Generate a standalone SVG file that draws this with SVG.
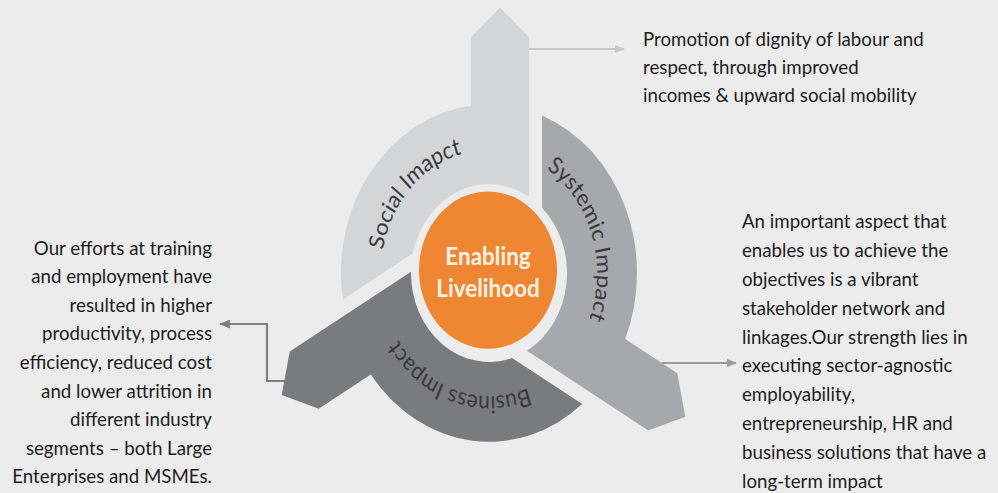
<svg xmlns="http://www.w3.org/2000/svg" xmlns:xlink="http://www.w3.org/1999/xlink" width="998" height="493" viewBox="0 0 998 493">
  <defs>
    <style>
      .bg { fill: #ececec; }
      .seg-social { fill: #d4d5d7; }
      .seg-systemic { fill: #a6a8ab; }
      .seg-business { fill: #7a7b7e; }
      .hub { fill: #ef8632; }
      .hub-text { font-family: Lato, "Open Sans", sans-serif; font-weight: 700; font-size: 22.5px; fill: #fdf1e6; text-anchor: middle; }
      .ring-label { font-family: Lato, "Open Sans", sans-serif; font-size: 21px; fill: #3a3a3c; }
      .desc { font-family: Lato, "Open Sans", sans-serif; font-size: 18.7px; fill: #1c1c1c; }
      .desc-right { text-anchor: end; }
      .conn { fill: none; stroke-width: 2.2; }
    </style>
    <!-- one ring segment with its outward arm; rotated copies form the cycle -->
    <path id="segment" d="M 40,-66.96 L 40,-207 L 11,-233 L -18,-207 L -18,-146.9 A 148 148 0 0 0 -146.17,23.2 L -76.06,-17.3 A 78 78 0 0 1 40,-66.96 Z"/>
    <!-- label baselines, all running clockwise -->
    <path id="arc-social" d="M -103.3,31.6 A 108 108 0 0 1 24.3,-105.2"/>
    <path id="arc-systemic" d="M 22.5,-105.6 A 108 108 0 0 1 80.3,72.3"/>
    <path id="arc-business" d="M 72.3,80.3 A 108 108 0 0 1 -105.6,22.5"/>
    <marker id="arrow-light" viewBox="0 0 10 8" refX="9" refY="4" markerWidth="10" markerHeight="8" markerUnits="userSpaceOnUse" orient="auto">
      <path d="M0,0 L10,4 L0,8 Z" fill="#c8c8c8"/>
    </marker>
    <marker id="arrow-mid" viewBox="0 0 10 8" refX="9" refY="4" markerWidth="10" markerHeight="8" markerUnits="userSpaceOnUse" orient="auto">
      <path d="M0,0 L10,4 L0,8 Z" fill="#9a9a9c"/>
    </marker>
    <marker id="arrow-dark" viewBox="0 0 10 8" refX="9" refY="4" markerWidth="11" markerHeight="9" markerUnits="userSpaceOnUse" orient="auto">
      <path d="M0,0 L10,4 L0,8 Z" fill="#7f7f81"/>
    </marker>
  </defs>

  <rect class="bg" x="0" y="0" width="998" height="493"/>

  <!-- connectors from each arm to its description -->
  <g id="connectors">
    <path class="conn" stroke="#c8c8c8" d="M 529,49 L 624,49" marker-end="url(#arrow-light)"/>
    <path class="conn" stroke="#9a9a9c" d="M 662,363 L 736,363" marker-end="url(#arrow-mid)"/>
    <path class="conn" stroke="#7f7f81" stroke-width="2.6" d="M 286,381 L 267,381 L 267,324 L 220,324" marker-end="url(#arrow-dark)"/>
  </g>

  <!-- the cycle, drawn round (0,0) and stretched vertically -->
  <g transform="translate(489,273) scale(1,1.14)">
    <g id="social-impact">
      <use xlink:href="#segment" class="seg-social"/>
      <text class="ring-label"><textPath xlink:href="#arc-social" startOffset="50%" text-anchor="middle">Social Imapct</textPath></text>
    </g>
    <g id="systemic-impact">
      <use xlink:href="#segment" class="seg-systemic" transform="rotate(120)"/>
      <text class="ring-label"><textPath xlink:href="#arc-systemic" startOffset="50%" text-anchor="middle">Systemic Impact</textPath></text>
    </g>
    <g id="business-impact">
      <use xlink:href="#segment" class="seg-business" transform="rotate(240)"/>
      <text class="ring-label"><textPath xlink:href="#arc-business" startOffset="50%" text-anchor="middle">Business Impact</textPath></text>
    </g>
    <g id="enabling-livelihood">
      <ellipse class="hub" cx="-1" cy="-2.6" rx="69" ry="69"/>
      <text class="hub-text" x="-1" y="-7">Enabling</text>
      <text class="hub-text" x="-1" y="21">Livelihood</text>
    </g>
  </g>

  <!-- descriptions -->
  <g id="social-text">
    <text class="desc" x="643" y="46">Promotion of dignity of labour and</text>
    <text class="desc" x="643" y="74">respect, through improved</text>
    <text class="desc" x="643" y="102">incomes &amp; upward social mobility</text>
  </g>
  <g id="systemic-text">
    <text class="desc" x="742" y="228">An important aspect that</text>
    <text class="desc" x="742" y="257">enables us to achieve the</text>
    <text class="desc" x="742" y="286">objectives is a vibrant</text>
    <text class="desc" x="742" y="315">stakeholder network and</text>
    <text class="desc" x="742" y="344">linkages.Our strength lies in</text>
    <text class="desc" x="742" y="372">executing sector-agnostic</text>
    <text class="desc" x="742" y="401">employability,</text>
    <text class="desc" x="742" y="430">entrepreneurship, HR and</text>
    <text class="desc" x="742" y="459">business solutions that have a</text>
    <text class="desc" x="742" y="488">long-term impact</text>
  </g>
  <g id="business-text">
    <text class="desc desc-right" x="212" y="255">Our efforts at training</text>
    <text class="desc desc-right" x="212" y="283">and employment have</text>
    <text class="desc desc-right" x="212" y="312">resulted in higher</text>
    <text class="desc desc-right" x="212" y="340">productivity, process</text>
    <text class="desc desc-right" x="212" y="369">efficiency, reduced cost</text>
    <text class="desc desc-right" x="212" y="398">and lower attrition in</text>
    <text class="desc desc-right" x="212" y="426">different industry</text>
    <text class="desc desc-right" x="212" y="455">segments – both Large</text>
    <text class="desc desc-right" x="212" y="483">Enterprises and MSMEs.</text>
  </g>
</svg>
